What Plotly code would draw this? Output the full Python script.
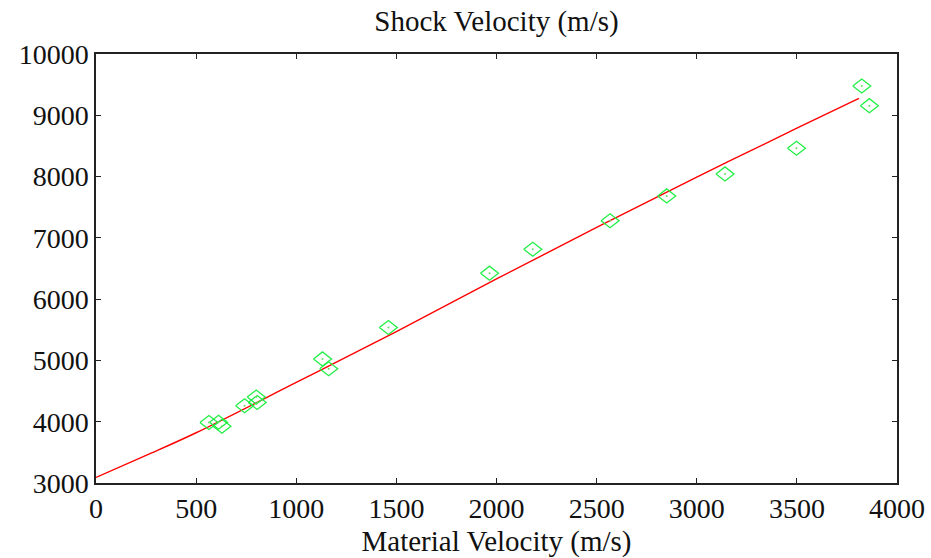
import plotly.graph_objects as go

# Measured shock data: material (particle) velocity vs shock velocity, m/s
material_velocity = [564, 612, 629, 742, 800, 805, 1131, 1162, 1460, 1965,
                     2181, 2567, 2850, 3141, 3498, 3824, 3862]
shock_velocity = [3988, 3991, 3926, 4260, 4402, 4314, 5025, 4864, 5537, 6424,
                  6815, 7280, 7684, 8043, 8462, 9478, 9157]

# Fitted Hugoniot curve, sampled along the material velocity range
fit_up = [0, 250, 500, 1000, 1500, 2000, 2500, 3000, 3500, 3810]
fit_us = [3090, 3450, 3820, 4640, 5470, 6330, 7170, 7990, 8790, 9275]

x_ticks = [0, 500, 1000, 1500, 2000, 2500, 3000, 3500, 4000]
y_ticks = [3000, 4000, 5000, 6000, 7000, 8000, 9000, 10000]

X_RANGE = [0, 4000]
Y_RANGE = [3000, 10000]

# Plot-area geometry (pixels) used to size the open diamond symbols
W, H = 931, 558
M = dict(l=96, r=34, t=54, b=75)
px_x = (X_RANGE[1] - X_RANGE[0]) / (W - M["l"] - M["r"])
px_y = (Y_RANGE[1] - Y_RANGE[0]) / (H - M["t"] - M["b"])
half_w, half_h = 9 * px_x, 7 * px_y

dx, dy = [], []
for u, s in zip(material_velocity, shock_velocity):
    dx += [u - half_w, u, u + half_w, u, u - half_w, None]
    dy += [s, s + half_h, s, s - half_h, s, None]

font_family = "Liberation Serif, Times New Roman, serif"

fig = go.Figure()
fig.add_trace(go.Scatter(x=fit_up, y=fit_us, mode="lines",
                         line=dict(color="#ff0000", width=1.4, shape="spline"),
                         showlegend=False))
fig.add_trace(go.Scatter(x=dx, y=dy, mode="lines",
                         line=dict(color="#22ee44", width=1.3),
                         showlegend=False))
fig.add_trace(go.Scatter(x=material_velocity, y=shock_velocity, mode="markers",
                         marker=dict(color="#66dd66", size=2),
                         showlegend=False))

axis_common = dict(showgrid=False, zeroline=False, showline=True, mirror="ticks",
                   automargin=False,
                   linecolor="#222222", linewidth=1.5, ticks="inside", ticklen=5,
                   tickwidth=1, tickcolor="#222222",
                   tickfont=dict(family=font_family, size=28, color="#111111"))

fig.update_layout(
    width=W, height=H, margin=M,
    paper_bgcolor="white", plot_bgcolor="white",
    title=dict(text="Shock Velocity (m/s)", x=(M["l"] + (W - M["l"] - M["r"]) / 2) / W,
               xanchor="center", y=1 - 21 / H, yanchor="middle",
               font=dict(family=font_family, size=29, color="#111111")),
    xaxis=dict(range=X_RANGE, tickvals=x_ticks, ticktext=[str(v) for v in x_ticks],
               title=dict(text="Material Velocity (m/s)", standoff=8,
                          font=dict(family=font_family, size=29, color="#111111")),
               **axis_common),
    yaxis=dict(range=Y_RANGE, tickvals=y_ticks, ticktext=[str(v) for v in y_ticks],
               **axis_common),
)

fig.write_html("out.html")
